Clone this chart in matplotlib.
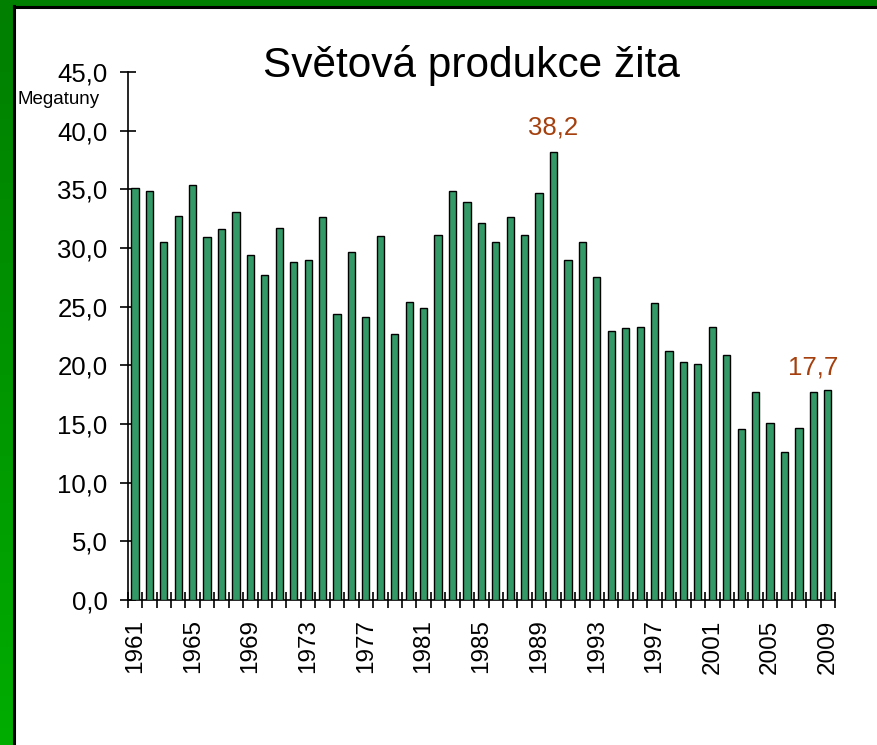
import numpy as np
import matplotlib
matplotlib.use("Agg")
import matplotlib.pyplot as plt
from matplotlib.patches import Rectangle
from matplotlib.lines import Line2D

plt.rcParams['font.family'] = ['Liberation Sans', 'DejaVu Sans']

# World rye production (megatonnes)
years = list(range(1961, 2010))
production = [35.1, 34.9, 30.5, 32.7, 35.4, 30.9, 31.6, 33.1, 29.4, 27.7,
              31.7, 28.8, 29.0, 32.6, 24.4, 29.7, 24.1, 31.0, 22.7, 25.4,
              24.9, 31.1, 34.9, 33.9, 32.1, 30.5, 32.6, 31.1, 34.7, 38.2,
              29.0, 30.5, 27.5, 22.9, 23.2, 23.3, 25.3, 21.2, 20.3, 20.1,
              23.3, 20.9, 14.6, 17.7, 15.1, 12.6, 14.7, 17.7, 17.9]
label_years = [1990, 2008]
label_texts = ["38,2", "17,7"]
yticks = [0, 5, 10, 15, 20, 25, 30, 35, 40, 45]

W, H = 877, 745
fig = plt.figure(figsize=(W / 100, H / 100), dpi=100)
fig.patch.set_facecolor("white")

# green frame (top band + left gradient band)
fig.patches.append(Rectangle((0, 1 - 6 / H), 1, 6 / H, transform=fig.transFigure,
                             facecolor="#007f00", edgecolor="none", zorder=0))
gax = fig.add_axes([0, 0, 13.5 / W, 1 - 6 / H])
grad = np.linspace(0, 1, 256).reshape(-1, 1)
cmap = matplotlib.colors.LinearSegmentedColormap.from_list("g", ["#007f00", "#00ad00"])
gax.imshow(grad, aspect="auto", cmap=cmap)
gax.axis("off")
fig.lines.append(Line2D([14.5 / W, 14.5 / W], [0, 1 - 6 / H], transform=fig.transFigure,
                        color="black", lw=2.2))
fig.lines.append(Line2D([13.5 / W, 1], [1 - 7 / H, 1 - 7 / H], transform=fig.transFigure,
                        color="black", lw=2.2))

ax = fig.add_axes([127.7 / W, 1 - 600 / H, (835 - 127.7) / W, (600 - 72) / H])
x = np.arange(len(years))
ax.bar(x, production, width=0.5, color="#339966", edgecolor="black", linewidth=1.0, zorder=3)

ax.set_xlim(-0.5, len(years) - 0.5)
ax.set_ylim(0, 45)
for s in ["top", "right"]:
    ax.spines[s].set_visible(False)
ax.spines["left"].set_linewidth(1.2)
ax.spines["bottom"].set_linewidth(1.2)

ax.set_yticks(yticks)
ax.set_yticklabels([f"{v:.1f}".replace(".", ",") for v in yticks])
ax.tick_params(axis="y", direction="inout", length=11, width=1.2, pad=9, labelsize=18.5)

ax.set_xticks(x[::4])
ax.set_xticklabels([str(y) for y in years[::4]], rotation=90)
ax.set_xticks(np.arange(-0.5, len(years)), minor=True)
ax.tick_params(axis="x", which="major", length=0, pad=14, labelsize=17.5)
ax.tick_params(axis="x", which="minor", direction="inout", length=11, width=1.2)

for yr, txt in zip(label_years, label_texts):
    i = years.index(yr)
    ax.annotate(txt, (x[i], production[i]), xytext=(0, 12.5), textcoords="offset points",
                ha="center", va="baseline", fontsize=18.5, color="#a5400e")

fig.text(471 / W, 1 - 77 / H, "Světová produkce žita", ha="center", va="baseline",
         fontsize=30.5)
fig.text(59 / W, 1 - 100 / H, "Megatuny", ha="center", va="center", fontsize=13.5)

fig.savefig("out.png", dpi=100)
